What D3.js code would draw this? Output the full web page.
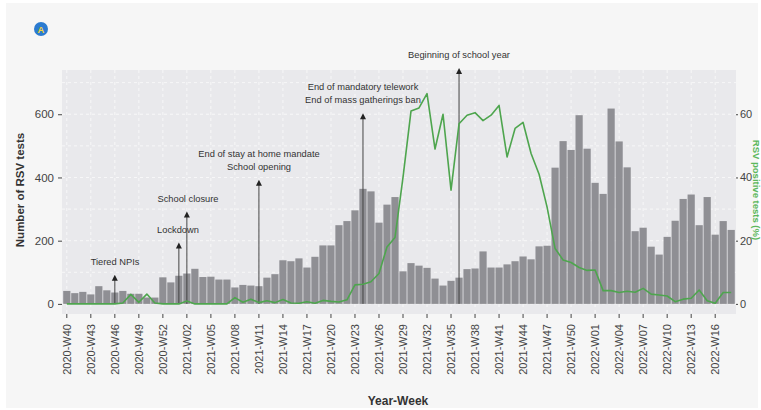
<!DOCTYPE html>
<html>
<head>
<meta charset="utf-8">
<script src="https://cdn.jsdelivr.net/npm/d3@7"></script>
<style>
  body { margin: 0; background: #fff; }
  svg { display: block; font-family: "Liberation Sans", Arial, sans-serif; }
</style>
</head>
<body>
<svg id="chart"></svg>
<script>
// weeks 2020-W40 .. 2022-W18
const weeks = [
  "2020-W40","2020-W41","2020-W42","2020-W43","2020-W44","2020-W45","2020-W46","2020-W47","2020-W48","2020-W49",
  "2020-W50","2020-W51","2020-W52","2020-W53","2021-W01","2021-W02","2021-W03","2021-W04","2021-W05","2021-W06",
  "2021-W07","2021-W08","2021-W09","2021-W10","2021-W11","2021-W12","2021-W13","2021-W14","2021-W15","2021-W16",
  "2021-W17","2021-W18","2021-W19","2021-W20","2021-W21","2021-W22","2021-W23","2021-W24","2021-W25","2021-W26",
  "2021-W27","2021-W28","2021-W29","2021-W30","2021-W31","2021-W32","2021-W33","2021-W34","2021-W35","2021-W36",
  "2021-W37","2021-W38","2021-W39","2021-W40","2021-W41","2021-W42","2021-W43","2021-W44","2021-W45","2021-W46",
  "2021-W47","2021-W48","2021-W49","2021-W50","2021-W51","2021-W52","2022-W01","2022-W02","2022-W03","2022-W04",
  "2022-W05","2022-W06","2022-W07","2022-W08","2022-W09","2022-W10","2022-W11","2022-W12","2022-W13","2022-W14",
  "2022-W15","2022-W16","2022-W17","2022-W18"
];

// number of RSV tests per week
const tests = [
  41, 34, 38, 30, 56, 43, 36, 41, 32, 32,
  20, 20, 84, 68, 89, 96, 111, 85, 86, 77,
  77, 52, 60, 58, 56, 83, 94, 138, 135, 144,
  115, 149, 185, 185, 249, 262, 296, 364, 356, 257,
  314, 338, 103, 129, 121, 114, 80, 58, 73, 83,
  110, 112, 166, 115, 115, 125, 135, 150, 141, 182,
  184, 431, 515, 487, 597, 491, 383, 348, 618, 514,
  432, 230, 241, 181, 156, 212, 263, 332, 346, 249,
  338, 219, 262, 234
];

// RSV positive tests (%)
const positivity = [
  0, 0, 0, 0, 0, 0, 0, 0.3, 3, 0.5,
  3.1, 0.3, 0, 0, 0, 0.9, 0, 0, 0, 0,
  0, 2, 0.5, 1.5, 0.4, 1, 0.4, 1.4, 0.3, 0.2,
  0.7, 0.2, 1.1, 0.8, 0.6, 1.3, 6, 6.2, 7, 9.6,
  18, 21, 40, 61, 62, 66.5, 49, 60, 36, 57,
  59.7, 60.5, 58, 59.7, 62.8, 46.5, 55.5, 57.4, 47.6, 41,
  30.6, 17.5, 13.9, 13.1, 11.5, 10.6, 10.7, 4.2, 4.2, 3.6,
  4, 3.7, 4.9, 3.1, 2.8, 2.5, 0.7, 1.5, 1.8, 4.4,
  1, 0.2, 3.6, 3.6
];

const tickLabels = [
  "2020-W40","2020-W43","2020-W46","2020-W49","2020-W52","2021-W02","2021-W05","2021-W08","2021-W11","2021-W14",
  "2021-W17","2021-W20","2021-W23","2021-W26","2021-W29","2021-W32","2021-W35","2021-W38","2021-W41","2021-W44",
  "2021-W47","2021-W50","2022-W01","2022-W04","2022-W07","2022-W10","2022-W13","2022-W16"
];

const eventWeeks = ["2020-W46", "2021-W01", "2021-W02", "2021-W11", "2021-W24", "2021-W36"];
const eventTops = [92, 194, 292, 393, 603, 746];
const eventLabels = [
  ["Tiered NPIs"],
  ["Lockdown"],
  ["School closure"],
  ["End of stay at home mandate", "School opening"],
  ["End of mandatory telework", "End of mass gatherings ban"],
  ["Beginning of school year"]
];

const width = 761, height = 410;
const margin = { top: 70, right: 25, bottom: 97, left: 62 };

const svg = d3.select("#chart")
  .attr("width", width)
  .attr("height", height);

svg.append("rect")
  .attr("x", 6).attr("y", 3)
  .attr("width", width - 9).attr("height", height - 5)
  .attr("fill", "#f6f6f6");

const x = d3.scaleBand()
  .domain(weeks)
  .range([margin.left, width - margin.right])
  .paddingInner(0.1)
  .paddingOuter(0.15);

const y = d3.scaleLinear()
  .domain([-32, 740])
  .range([height - margin.bottom + 1, margin.top]);

const yRight = d3.scaleLinear()
  .domain([-3.2, 74])
  .range([height - margin.bottom + 1, margin.top]);

const cx = (w) => x(w) + x.bandwidth() / 2;
const panelR = width - margin.right;
const panelB = height - margin.bottom + 1;

// panel
svg.append("rect")
  .attr("x", margin.left).attr("y", margin.top)
  .attr("width", panelR - margin.left)
  .attr("height", panelB - margin.top)
  .attr("fill", "#e9e9ec");

const grid = svg.append("g")
  .attr("stroke", "#fbfbfb")
  .attr("stroke-dasharray", "3,3")
  .attr("stroke-width", 0.8);

grid.selectAll("line.h")
  .data(d3.range(0, 800, 100))
  .join("line")
  .attr("class", "h")
  .attr("x1", margin.left).attr("x2", panelR)
  .attr("y1", (d) => y(d)).attr("y2", (d) => y(d));

grid.selectAll("line.v")
  .data(tickLabels)
  .join("line")
  .attr("class", "v")
  .attr("x1", (d) => cx(d)).attr("x2", (d) => cx(d))
  .attr("y1", margin.top).attr("y2", panelB);

// bars
svg.append("g")
  .selectAll("rect")
  .data(weeks)
  .join("rect")
  .attr("x", (d) => x(d))
  .attr("width", x.bandwidth())
  .attr("y", (d, i) => y(tests[i]))
  .attr("height", (d, i) => y(0) - y(tests[i]))
  .attr("fill", "#8f8f94");

// event arrows
const ev = svg.append("g");
ev.selectAll("line")
  .data(eventWeeks)
  .join("line")
  .attr("x1", (d) => cx(d)).attr("x2", (d) => cx(d))
  .attr("y1", y(0))
  .attr("y2", (d, i) => y(eventTops[i]) + 4)
  .attr("stroke", "#444")
  .attr("stroke-width", 1);

ev.selectAll("path")
  .data(eventWeeks)
  .join("path")
  .attr("d", (d, i) => {
    const px = cx(d), py = y(eventTops[i]);
    return `M${px - 3},${py + 6} L${px},${py} L${px + 3},${py + 6} Z`;
  })
  .attr("fill", "#222");

const labelX = [115, 178, 188, 259, 363, 459];
eventLabels.forEach((lines, i) => {
  const top = y(eventTops[i]) - 10 - (lines.length - 1) * 13;
  lines.forEach((t, j) => {
    ev.append("text")
      .attr("x", labelX[i])
      .attr("y", top + j * 13)
      .attr("text-anchor", "middle")
      .attr("font-size", 9.3)
      .attr("fill", "#333")
      .text(t);
  });
});

// positivity line
svg.append("path")
  .datum(weeks)
  .attr("fill", "none")
  .attr("stroke", "#4ea54e")
  .attr("stroke-width", 1.6)
  .attr("stroke-linejoin", "round")
  .attr("d", d3.line()
    .x((d) => cx(d))
    .y((d, i) => yRight(positivity[i])));

// axes
const yAxis = svg.append("g")
  .attr("transform", `translate(${margin.left},0)`)
  .call(d3.axisLeft(y).tickValues([0, 200, 400, 600]).tickSize(4).tickPadding(4));
yAxis.select(".domain").remove();
yAxis.selectAll("line").attr("stroke", "#444");
yAxis.selectAll("text").attr("font-size", 11.5).attr("fill", "#444")
  .attr("font-family", "Liberation Sans, Arial, sans-serif");

const yAxisR = svg.append("g")
  .attr("transform", `translate(${panelR},0)`)
  .call(d3.axisRight(yRight).tickValues([0, 20, 40, 60]).tickSize(2).tickPadding(2));
yAxisR.select(".domain").remove();
yAxisR.selectAll("line").attr("stroke", "#444");
yAxisR.selectAll("text").attr("font-size", 11).attr("fill", "#444")
  .attr("font-family", "Liberation Sans, Arial, sans-serif");

const xAxis = svg.append("g")
  .attr("transform", `translate(0,${panelB})`)
  .call(d3.axisBottom(x).tickValues(tickLabels).tickSize(4).tickPadding(4));
xAxis.select(".domain").remove();
xAxis.selectAll("line").attr("stroke", "#444");
xAxis.selectAll("text")
  .attr("font-size", 11)
  .attr("fill", "#444")
  .attr("font-family", "Liberation Sans, Arial, sans-serif")
  .attr("text-anchor", "end")
  .attr("transform", "rotate(-90)")
  .attr("x", -10)
  .attr("y", 0)
  .attr("dy", "0.35em");

// axis titles
svg.append("text")
  .attr("transform", "translate(24,190) rotate(-90)")
  .attr("text-anchor", "middle")
  .attr("font-size", 11.5)
  .attr("font-weight", "bold")
  .attr("fill", "#333")
  .text("Number of RSV tests");

svg.append("text")
  .attr("transform", "translate(753,190) rotate(90)")
  .attr("text-anchor", "middle")
  .attr("font-size", 9.5)
  .attr("font-weight", "bold")
  .attr("fill", "#5cb85c")
  .text("RSV positive tests (%)");

svg.append("text")
  .attr("x", 398).attr("y", 405)
  .attr("text-anchor", "middle")
  .attr("font-size", 12)
  .attr("font-weight", "bold")
  .attr("fill", "#333")
  .text("Year-Week");

// panel badge
svg.append("circle")
  .attr("cx", 41).attr("cy", 29).attr("r", 7)
  .attr("fill", "#2b7bd0");
svg.append("text")
  .attr("x", 41).attr("y", 32.5)
  .attr("text-anchor", "middle")
  .attr("font-size", 9.5)
  .attr("font-weight", "bold")
  .attr("fill", "#f2d43a")
  .text("A");
</script>
</body>
</html>
